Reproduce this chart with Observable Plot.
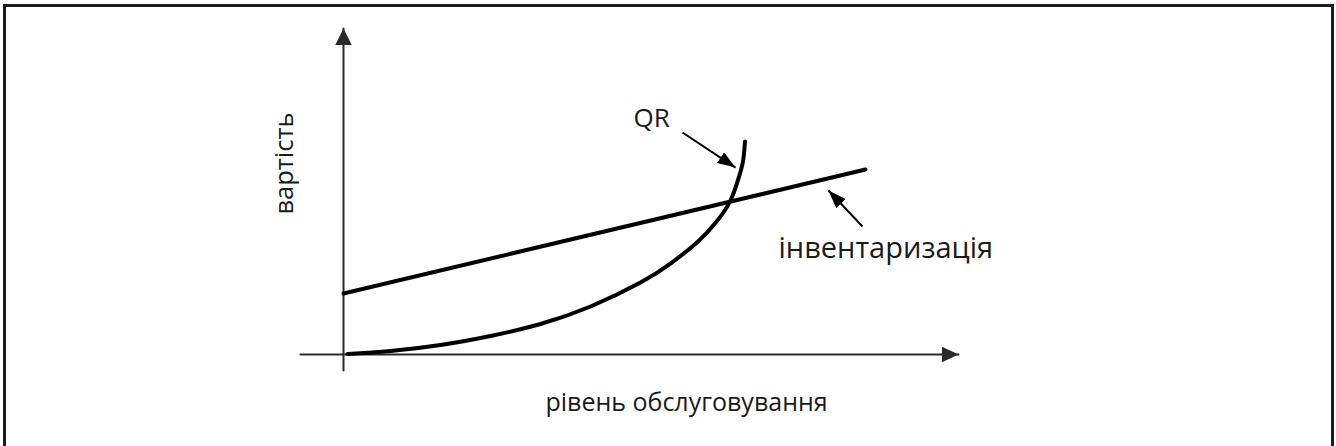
<!DOCTYPE html>
<html>
<head>
<meta charset="utf-8">
<script src="https://cdn.jsdelivr.net/npm/d3@7"></script>
<script src="https://cdn.jsdelivr.net/npm/@observablehq/plot@0.6"></script>
<style>
  html, body { margin: 0; padding: 0; background: #fff; overflow: hidden; }
  #wrap { position: relative; width: 1336px; height: 446px; }
  #frame { position: absolute; left: 3px; top: 4px; width: 1331px; height: 460px;
           border: 3px solid #1c1c1c; border-bottom: none; box-sizing: border-box; pointer-events: none; }
</style>
</head>
<body>
<div id="wrap"><div id="frame"></div></div>
<script>
// Series values (abstract units: service level → cost)
const qrServiceLevel = [0.67, 7.83, 16.17, 24.5, 32.83, 41.17, 49.5, 54.5, 59, 62.33, 64.5, 65.83, 66.58, 66.92];
const qrCost         = [0.17, 1.17, 3.17, 6.17, 10.17, 16, 24, 30.33, 37.5, 44.67, 51.33, 58.67, 64.33, 71];
const invServiceLevel = [0, 87];
const invCost         = [20.33, 61.67];

// Axis extents (arrows)
const xAxisExtent = [-7.17, 102.5];
const yAxisExtent = [-5.33, 108.67];

// Labels and their anchor points (data units)
const axisTitles = ["рівень обслуговування", "вартість"];
const seriesNames = ["QR", "інвентаризація"];
const seriesLabelX = [48.33, 72.5];
const seriesLabelY = [75.67, 32.33];
// Pointer arrows from label to series
const pointerFrom = [[56.5, 74], [86.5, 42.67]];
const pointerTo   = [[65.33, 62.3], [80.83, 54.67]];

const qr = qrServiceLevel.map((x, i) => ({x, y: qrCost[i]}));
const inv = invServiceLevel.map((x, i) => ({x, y: invCost[i]}));
const pointers = pointerFrom.map((f, i) => ({x1: f[0], y1: f[1], x2: pointerTo[i][0], y2: pointerTo[i][1]}));
const seriesLabels = seriesNames.map((t, i) => ({t, x: seriesLabelX[i], y: seriesLabelY[i]}));

function triMarker(L, W) {
  return (color) => {
    const m = d3.create("svg:marker")
      .attr("viewBox", `0 ${-W / 2} ${L} ${W}`)
      .attr("markerWidth", L)
      .attr("markerHeight", W)
      .attr("markerUnits", "userSpaceOnUse")
      .attr("refX", L)
      .attr("refY", 0)
      .attr("orient", "auto");
    m.append("path").attr("d", `M0,${-W / 2}L${L},0L0,${W / 2}Z`).attr("fill", color).attr("stroke", "none");
    return m.node();
  };
}

const font = "'Open Sans', sans-serif";
const chart = Plot.plot({
  width: 1336,
  height: 446,
  margin: 0,
  x: {domain: [0, 100], range: [343, 943], axis: null},
  y: {domain: [0, 100], range: [354, 54], axis: null},
  style: {fontFamily: font, background: "transparent"},
  marks: [
    // axes
    Plot.line([{x: xAxisExtent[0], y: 0}, {x: xAxisExtent[1], y: 0}], {x: "x", y: "y", stroke: "#2a2a2a", strokeWidth: 2, markerEnd: triMarker(17, 16)}),
    Plot.line([{x: 0, y: yAxisExtent[0]}, {x: 0, y: yAxisExtent[1]}], {x: "x", y: "y", stroke: "#2a2a2a", strokeWidth: 2, markerEnd: triMarker(17, 17)}),
    // series
    Plot.line(inv, {x: "x", y: "y", stroke: "#000", strokeWidth: 4}),
    Plot.line(qr, {x: "x", y: "y", curve: "natural", stroke: "#000", strokeWidth: 4}),
    // pointers
    Plot.link(pointers, {x1: "x1", y1: "y1", x2: "x2", y2: "y2", stroke: "#000", strokeWidth: 2, markerEnd: triMarker(18, 13)}),
    // labels
    Plot.text(seriesLabels.slice(0, 1), {x: "x", y: "y", text: "t", textAnchor: "start", lineAnchor: "bottom", fontSize: 26, fill: "#1a1a1a"}),
    Plot.text(seriesLabels.slice(1), {x: "x", y: "y", text: "t", textAnchor: "start", lineAnchor: "bottom", fontSize: 29, fill: "#1a1a1a"}),
    Plot.text([axisTitles[0]], {x: 57.17, y: -18.67, text: d => d, textAnchor: "middle", lineAnchor: "bottom", fontSize: 25, fill: "#1a1a1a"}),
    Plot.text([axisTitles[1]], {x: -8.5, y: 63.67, text: d => d, rotate: -90, textAnchor: "middle", lineAnchor: "bottom", fontSize: 25.5, fill: "#1a1a1a"})
  ]
});
document.getElementById("wrap").insertBefore(chart, document.getElementById("frame"));
</script>
</body>
</html>
